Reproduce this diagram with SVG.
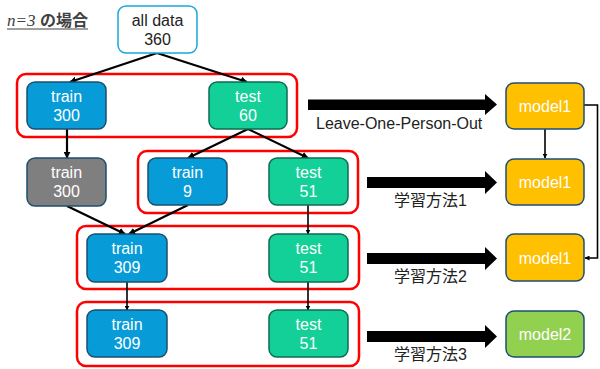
<svg xmlns="http://www.w3.org/2000/svg" width="600" height="369" viewBox="0 0 600 369">
<defs>
<marker id="ah" viewBox="0 0 10 10" refX="9" refY="5" markerWidth="5" markerHeight="5" orient="auto" markerUnits="userSpaceOnUse">
<path d="M0,0 L10,5 L0,10 z" fill="#000"/>
</marker>
<marker id="ah2" viewBox="0 0 10 10" refX="9" refY="5" markerWidth="7" markerHeight="7" orient="auto" markerUnits="userSpaceOnUse">
<path d="M0,0 L10,5 L0,10 z" fill="#000"/>
</marker>
</defs>
<style>
.t{font-family:"Liberation Sans",Arial,sans-serif;font-size:16px;fill:#fff;text-anchor:middle}
.lbl{font-family:"Liberation Sans","Noto Sans CJK JP",sans-serif;font-size:16px;fill:#222}
.train{fill:#079CD7;stroke:#1C4F6E;stroke-width:1.5}
.test{fill:#13CF98;stroke:#0F6B52;stroke-width:1.5}
.gray{fill:#7F7F7F;stroke:#1C4F6E;stroke-width:1.5}
.model1{fill:#FFC000;stroke:#1F4E79;stroke-width:1.5}
.model2{fill:#92D050;stroke:#1F4E79;stroke-width:1.5}
.grp{fill:none;stroke:#FF0000;stroke-width:2.5}
.ln{stroke:#000;stroke-width:2.2;fill:none;marker-end:url(#ah2)}
.ln2{stroke:#000;stroke-width:1.6;fill:none;marker-end:url(#ah)}
.big{fill:#000}
</style>
<rect width="600" height="369" fill="#fff"/>

<g id="title">
<text x="7" y="26" fill="#404040"><tspan font-family="'Liberation Serif',serif" font-style="italic" font-size="17">n=3</tspan><tspan x="40" font-family="'Noto Sans CJK JP',sans-serif" font-size="16" font-weight="bold">の場合</tspan></text>
<line x1="7" y1="29" x2="88" y2="29" stroke="#404040" stroke-width="1"/>
</g>

<g id="groups">
<rect class="grp" x="17" y="74" width="280" height="63" rx="9"/>
<rect class="grp" x="138" y="151" width="220" height="62" rx="9"/>
<rect class="grp" x="77" y="226" width="282" height="63" rx="9"/>
<rect class="grp" x="77" y="302" width="282" height="64" rx="9"/>
</g>

<g id="connectors">
<line class="ln" x1="157" y1="53" x2="70" y2="82"/>
<line class="ln" x1="157" y1="53" x2="247" y2="82"/>
<line class="ln" x1="67" y1="129" x2="67" y2="158"/>
<line class="ln" x1="248" y1="129" x2="188" y2="158"/>
<line class="ln" x1="248" y1="129" x2="308" y2="158"/>
<line class="ln" x1="67" y1="206" x2="125" y2="234"/>
<line class="ln" x1="188" y1="205" x2="129" y2="234"/>
<line class="ln2" x1="308" y1="205" x2="308" y2="234"/>
<line class="ln2" x1="127" y1="282" x2="127" y2="310"/>
<line class="ln2" x1="308" y1="282" x2="308" y2="310"/>
<line class="ln2" x1="545" y1="129" x2="545" y2="158"/>
<path class="ln2" d="M584,105 H597.5 V258 H585"/>
<polygon class="big" points="308,99.5 485,99.5 485,94 497,104.5 485,115 485,110 308,110"/>
<polygon class="big" points="367,177 485,177 485,171 497,182.5 485,194 485,188 367,188"/>
<polygon class="big" points="367,253 485,253 485,247 497,258.5 485,270 485,264 367,264"/>
<polygon class="big" points="367,331 485,331 485,325 497,336.5 485,348 485,342 367,342"/>
<text class="lbl" x="316" y="129">Leave-One-Person-Out</text>
<text class="lbl" x="394" y="206">学習方法1</text>
<text class="lbl" x="394" y="282">学習方法2</text>
<text class="lbl" x="394" y="360">学習方法3</text>
</g>

<g id="alldata">
<rect x="118" y="6" width="79" height="47" rx="8" fill="#fff" stroke="#1AA7DB" stroke-width="1.5"/>
<text class="t" x="157.5" y="26" style="fill:#222">all data</text>
<text class="t" x="157.5" y="45" style="fill:#222">360</text>
</g>

<g id="train300">
<rect class="train" x="27" y="82" width="79" height="47" rx="8"/>
<text class="t" x="66.5" y="102">train</text>
<text class="t" x="66.5" y="121">300</text>
</g>
<g id="test60">
<rect class="test" x="209" y="82" width="78" height="47" rx="8"/>
<text class="t" x="248" y="102">test</text>
<text class="t" x="248" y="121">60</text>
</g>

<g id="train300b">
<rect class="gray" x="27" y="158" width="79" height="48" rx="8"/>
<text class="t" x="66.5" y="178">train</text>
<text class="t" x="66.5" y="197">300</text>
</g>
<g id="train9">
<rect class="train" x="148" y="158" width="79" height="47" rx="8"/>
<text class="t" x="187.5" y="178">train</text>
<text class="t" x="187.5" y="197">9</text>
</g>
<g id="test51a">
<rect class="test" x="269" y="158" width="79" height="47" rx="8"/>
<text class="t" x="308.5" y="178">test</text>
<text class="t" x="308.5" y="197">51</text>
</g>

<g id="train309a">
<rect class="train" x="87" y="234" width="80" height="48" rx="8"/>
<text class="t" x="127" y="254">train</text>
<text class="t" x="127" y="273">309</text>
</g>
<g id="test51b">
<rect class="test" x="269" y="234" width="79" height="48" rx="8"/>
<text class="t" x="308.5" y="254">test</text>
<text class="t" x="308.5" y="273">51</text>
</g>

<g id="train309b">
<rect class="train" x="87" y="310" width="80" height="47" rx="8"/>
<text class="t" x="127" y="330">train</text>
<text class="t" x="127" y="349">309</text>
</g>
<g id="test51c">
<rect class="test" x="269" y="310" width="79" height="47" rx="8"/>
<text class="t" x="308.5" y="330">test</text>
<text class="t" x="308.5" y="349">51</text>
</g>

<g id="model1a">
<rect class="model1" x="506" y="83" width="78" height="46" rx="8"/>
<text class="t" x="545" y="112">model1</text>
</g>
<g id="model1b">
<rect class="model1" x="506" y="159" width="78" height="46" rx="8"/>
<text class="t" x="545" y="188">model1</text>
</g>
<g id="model1c">
<rect class="model1" x="506" y="234" width="78" height="47" rx="8"/>
<text class="t" x="545" y="264">model1</text>
</g>
<g id="model2">
<rect class="model2" x="506" y="311" width="78" height="46" rx="8"/>
<text class="t" x="545" y="340">model2</text>
</g>
</svg>
